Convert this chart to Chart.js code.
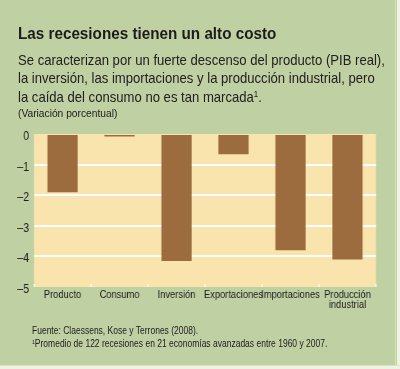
<!DOCTYPE html>
<html>
<head>
<meta charset="utf-8">
<script src="https://cdn.jsdelivr.net/npm/chart.js@4"></script>
<style>
  html, body { margin: 0; padding: 0; }
  body { width: 400px; height: 369px; background: #bfd0a3; position: relative; overflow: hidden;
         font-family: "Liberation Sans", Arial, sans-serif; color: #222020; }
  #wrap { position: absolute; left: 0; top: 0; width: 488px; height: 369px;
          transform: scaleX(0.82); transform-origin: 0 0; }
  .t { position: absolute; left: 18px; white-space: nowrap; transform-origin: 0 0; }
  #title { top: 24.3px; font-size: 15.8px; line-height: 19px; font-weight: bold; color: #1c1c1c; transform: scaleX(0.965); }
  #sub { top: 50.6px; font-size: 14.4px; line-height: 18.6px; transform: scaleX(0.91); }
  #unit { top: 107px; font-size: 11px; line-height: 12px; transform: scaleX(0.93); }
  #notes { left: 32px; top: 323.5px; font-size: 10px; line-height: 13.5px; transform: scaleX(0.85); }
  sup { font-size: 0.6em; vertical-align: 0.55em; line-height: 0; }
  #edgeR { position: absolute; left: 395px; top: 0; width: 5px; height: 369px;
           background: linear-gradient(to right, #d6e4bf 0 1px, #bfd0a3 1px 2px, #eef4e2 2px); }
  #edgeB { position: absolute; left: 0; top: 365px; width: 400px; height: 4px;
           background: linear-gradient(to bottom, #d6e4bf 0 1px, #eef4e2 1px); }
</style>
</head>
<body>
<div id="wrap"><canvas id="chart" width="488" height="369"></canvas></div>
<div class="t" id="title">Las recesiones tienen un alto costo</div>
<div class="t" id="sub">Se caracterizan por un fuerte descenso del producto (PIB real),<br>la inversión, las importaciones y la producción industrial, pero<br>la caída del consumo no es tan marcada<sup>1</sup>.</div>
<div class="t" id="unit">(Variación porcentual)</div>
<div class="t" id="notes">Fuente: Claessens, Kose y Terrones (2008).<br><sup>1</sup>Promedio de 122 recesiones en 21 economías avanzadas entre 1960 y 2007.</div>
<div id="edgeR"></div>
<div id="edgeB"></div>
<script>
const categories = ['Producto', 'Consumo', 'Inversión', 'Exportaciones', 'Importaciones', ['Producción', 'industrial']];
const values = [-1.9, -0.08, -4.15, -0.66, -3.8, -4.1];
const yTicks = [0, -1, -2, -3, -4, -5];

// the canvas is 488 wide and squeezed to 400 by CSS to get the condensed type
const FONT = '"Liberation Sans", Arial, sans-serif';

// plot background + small boundary ticks at the bottom
const plotBg = {
  id: 'plotBg',
  beforeDraw(c) {
    const a = c.chartArea, ctx = c.ctx;
    ctx.save();
    ctx.fillStyle = '#f9e4ad';
    ctx.fillRect(a.left, a.top, a.right - a.left, a.bottom - a.top);
    ctx.restore();
  },
  afterDatasetsDraw(c) {
    const a = c.chartArea, ctx = c.ctx, x = c.scales.x;
    ctx.save();
    ctx.strokeStyle = '#ffffff';
    ctx.lineWidth = 1.3;
    for (let i = 0; i <= categories.length; i++) {
      const px = x.getPixelForValue(i - 0.5);
      ctx.beginPath();
      ctx.moveTo(px, a.bottom - 3);
      ctx.lineTo(px, a.bottom);
      ctx.stroke();
    }
    ctx.restore();
  }
};

new Chart(document.getElementById('chart'), {
  type: 'bar',
  data: {
    labels: categories,
    datasets: [{
      data: values,
      backgroundColor: '#9c6b3e',
      borderWidth: 0,
      categoryPercentage: 1,
      barPercentage: 0.53
    }]
  },
  options: {
    responsive: false,
    animation: false,
    layout: { padding: { top: 134, right: 29.5, bottom: 40, left: 0 } },
    plugins: { legend: { display: false }, tooltip: { enabled: false } },
    scales: {
      x: {
        grid: { display: false, drawTicks: false },
        border: { display: false },
        ticks: {
          color: '#222020', padding: 3, maxRotation: 0, autoSkip: false,
          font: { family: FONT, size: 11.4, lineHeight: 0.84 }
        },
        afterFit(s) { s.height = 42; }
      },
      y: {
        min: -5, max: 0,
        afterBuildTicks(s) { s.ticks = yTicks.map(v => ({ value: v })); },
        grid: {
          color: ctx => (ctx.tick.value === 0 || ctx.tick.value === -5) ? 'rgba(0,0,0,0)' : '#ffffff',
          lineWidth: 2, drawTicks: false
        },
        border: { display: false },
        ticks: {
          color: '#222020', padding: 6, labelOffset: 2.5,
          font: { family: FONT, size: 13 },
          callback: v => v < 0 ? '\u2013' + Math.abs(v) : String(v)
        },
        afterFit(s) { s.width = 41.5; }
      }
    }
  },
  plugins: [plotBg]
});
</script>
</body>
</html>
